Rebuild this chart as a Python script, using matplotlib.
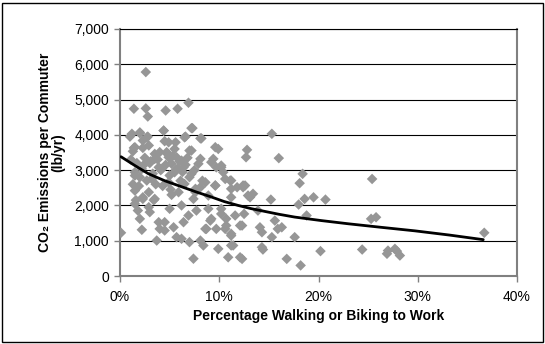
import matplotlib
matplotlib.use("Agg")
import matplotlib.pyplot as plt
from matplotlib.patches import Rectangle
from matplotlib.ticker import FuncFormatter

plt.rcParams['font.family'] = ['Liberation Sans', 'DejaVu Sans']

# Scatter data: percentage walking/biking (%) and CO2 per commuter (lb/yr)
pct = [2.6, 1.4, 2.6, 2.8, 4.6, 5.8, 6.9, 7.3, 4.4, 1.0, 2.0, 2.8, 2.3, 1.4, 2.3, 1.3,
       6.6, 8.2, 5.6, 4.5, 7.0, 9.9, 12.8, 12.7, 3.5, 4.7, 5.7, 8.1, 9.4, 9.7, 10.4, 11.2,
       11.8, 12.6, 13.4, 9.6, 8.1, 1.5, 2.0, 2.7, 3.9, 5.2, 6.4, 7.0, 2.3, 7.6, 8.9,
       1.2, 2.0, 2.7, 4.4, 7.2, 6.5, 8.1, 1.5, 2.9, 4.0, 4.9, 5.5, 7.2, 3.5, 4.9, 6.2,
       7.9, 9.2, 10.2, 2.2, 4.2, 5.5, 7.2, 1.5, 3.2, 4.9, 6.5, 8.6, 9.6, 10.6, 11.2,
       2.9, 5.9, 7.6, 1.5,
       0.1, 1.5, 2.3, 3.5, 1.8, 2.0, 3.0, 2.2, 3.9, 4.5, 4.0, 4.5, 5.4, 3.7, 5.7, 6.2,
       7.0, 8.1, 8.4, 7.4, 6.4, 6.9, 7.7, 7.4, 6.2, 5.0, 8.7, 9.2, 9.7, 9.9, 10.6, 10.7,
       11.2, 11.2, 10.9, 12.1, 12.3, 10.2, 11.6, 8.9, 2.9, 11.4,
       15.3, 16.0, 18.4, 18.1, 25.4, 12.4, 13.1, 15.2, 18.6, 19.5, 20.7, 18.0, 18.8,
       13.9, 12.5, 25.3, 25.8, 14.1, 14.3, 15.6, 15.9, 16.3, 15.3, 17.6, 14.4, 16.8,
       18.2, 20.2, 24.4, 12.3, 12.1, 26.9, 27.9, 28.2, 36.7, 14.3, 27.0, 27.7,
       9.6, 10.2, 11.1, 12.4, 12.9, 11.2, 10.2, 10.7, 11.2, 9.1, 8.6,
       3.0, 3.8, 4.6, 5.3, 6.0, 6.8, 3.3, 4.1, 5.0, 5.8, 6.6, 3.6, 4.3, 5.1, 6.1,
       2.5, 3.1, 4.8, 5.6, 6.3, 7.5, 8.3, 2.4, 3.4, 5.2,
       1.1, 1.7, 1.3, 1.9, 1.6]
co2 = [5780, 4740, 4750, 4520, 4690, 4740, 4910, 4190, 4120, 3950, 4045, 3950, 3840,
       3630, 3630, 3535, 3950, 3900, 3790, 3820, 3555, 3600, 3575, 3365, 3460, 3510,
       3365, 3320, 3320, 3080, 2940, 2705, 2515, 2565, 2330, 2565, 2515, 2940, 2800,
       2705, 3080, 3180, 3080, 2800, 2230, 2375, 2280,
       4030, 4070, 3930, 4120, 4190, 3930, 3900, 3650, 3700, 3510, 3790, 3600, 3555,
       3320, 3365, 3270, 3180, 3225, 3130, 3035, 3035, 2940, 2895, 2845, 2750, 2655,
       2610, 2655, 2565, 2750, 2470, 2375, 2375, 2470, 2420,
       1225, 2045, 2185, 2185, 1855, 1620, 1810, 1310, 1525, 1525, 1335, 1290, 1380,
       1005, 1100, 1055, 960, 1005, 865, 490, 1525, 1715, 1855, 2185, 2000, 1905, 1335,
       1620, 1335, 770, 1335, 1620, 1145, 865, 530, 530, 1430, 1905, 1715, 1905, 1950,
       865,
       4030, 3340, 2895, 2630, 2750, 2565, 2230, 2165, 2185, 2230, 2165, 2025, 1715,
       1855, 1760, 1620, 1665, 1380, 1240, 1570, 1335, 1380, 1100, 1100, 750, 485,
       300, 705, 750, 485, 1430, 630, 705, 580, 1225, 815, 720, 770,
       3650, 3080, 2705, 2515, 2280, 2230, 1760, 1430, 1195, 1570, 1335,
       3200, 3300, 3150, 3400, 3250, 3350, 2900, 3000, 2850, 3050, 3150, 2600, 2550,
       2450, 2700, 3350, 3250, 3450, 3000, 2950, 3000, 2700, 3150, 2150, 2300,
       3300, 3200, 2600, 2550, 2150]

# Trend line
trend_x = [0.1, 1.5, 2.85, 4.5, 6.2, 7.7, 9.2, 10.5, 11.9, 13.2, 14.6, 16.0, 17.6,
           20.3, 23.0, 26.3, 29.7, 33.2, 36.6]
trend_y = [3380, 3130, 2900, 2700, 2530, 2380, 2240, 2110, 2000, 1910, 1830, 1750,
           1670, 1570, 1480, 1380, 1280, 1160, 1030]

xticks = [0, 10, 20, 30, 40]
yticks = [0, 1000, 2000, 3000, 4000, 5000, 6000, 7000]

fig = plt.figure(figsize=(5.45, 3.44), dpi=100)
ax = fig.add_axes([120/545, 1 - 276/344, (517-120)/545, (276-29)/344])

ax.set_xlim(0, 40)
ax.set_ylim(0, 7000)
ax.set_xticks(xticks)
ax.set_yticks(yticks)
ax.xaxis.set_major_formatter(FuncFormatter(lambda v, p: f"{int(v)}%"))
ax.yaxis.set_major_formatter(FuncFormatter(lambda v, p: f"{int(v):,}"))

ax.grid(axis='y', color='black', linewidth=0.8)
ax.set_axisbelow(True)

ax.scatter(pct, co2, marker='D', s=29, color='#969696', edgecolors='none', zorder=3)
ax.plot(trend_x, trend_y, color='black', linewidth=2.0, zorder=4,
        solid_joinstyle='round', solid_capstyle='round')

for side in ['left', 'bottom', 'right']:
    ax.spines[side].set_color('#808080')
    ax.spines[side].set_linewidth(1.5)
ax.spines['top'].set_color('black')
ax.spines['top'].set_linewidth(0.8)

ax.tick_params(axis='both', direction='out', length=4, width=1, color='#808080',
               labelsize=10, labelcolor='black')
ax.tick_params(axis='x', pad=6)
ax.tick_params(axis='y', pad=4)

ax.set_xlabel('Percentage Walking or Biking to Work', fontsize=10, fontweight='bold',
              labelpad=4)
ax.set_ylabel('CO₂ Emissions per Commuter\n(lb/yr)', fontsize=10, fontweight='bold',
              labelpad=6, linespacing=1.0)

fig.patches.append(Rectangle((2/545, 2/344), 541/545, 339/344, transform=fig.transFigure,
                             fill=False, edgecolor='black', linewidth=1.0))

fig.savefig('out.png', dpi=100)
